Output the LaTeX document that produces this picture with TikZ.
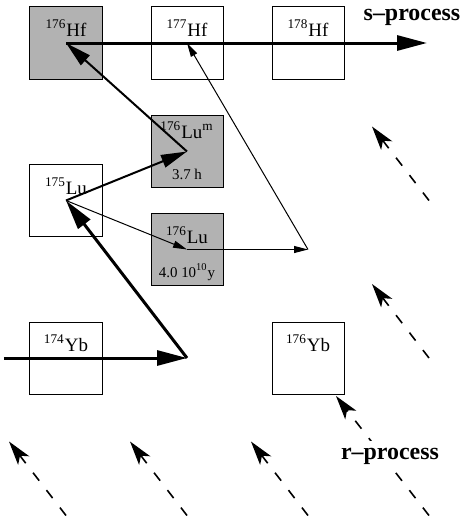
\documentclass[tikz,border=0pt]{standalone}
\usepackage{fontspec}
\setmainfont{Liberation Serif}
\usepackage{tikz}
\usetikzlibrary{arrows.meta,positioning}
\tikzstyle{nuc} = [rectangle, draw=black, line width=0.5bp, minimum size=36bp, inner sep=0pt]
\tikzstyle{stable} = [nuc, fill=white]
\tikzstyle{unstable} = [nuc, fill=black!30]
\tikzstyle{nucname} = [font=\fontsize{9.5}{11}\selectfont, anchor=base, inner sep=0pt, yshift=-15bp]
\tikzstyle{halflife} = [font=\fontsize{7.5}{9}\selectfont, anchor=base, inner sep=0pt, yshift=4.5bp]
\tikzstyle{process} = [font=\fontsize{12}{14}\selectfont\bfseries, inner sep=1bp]
\tikzstyle{heavy} = [line width=1.5bp, -{Triangle[length=15bp,width=7.5bp]}]
\tikzstyle{medium} = [line width=1bp, -{Triangle[length=13bp,width=6.5bp]}]
\tikzstyle{light} = [line width=0.5bp, -{Triangle[length=7bp,width=3.5bp]}]
\tikzstyle{rflow} = [line width=0.8bp, dash pattern=on 5bp off 6bp,
   -{Stealth[length=12bp,width=7bp,inset=3bp]}]

\begin{document}
\begin{tikzpicture}[on grid]

\useasboundingbox (-33bp,21.5bp) rectangle (198bp,-236.5bp);

% nuclides
\node (hf176) [unstable, label={[nucname]north:\textsuperscript{176}Hf}] {};
\node (hf177) [stable, right=60.5bp of hf176, label={[nucname]north:\textsuperscript{177}Hf}] {};
\node (hf178) [stable, right=60.5bp of hf177, label={[nucname]north:\textsuperscript{178}Hf}] {};
\node (lu175) [stable, below=78.75bp of hf176, label={[nucname]north:\textsuperscript{175}Lu}] {};
\node (lum) [unstable, above right=24.5bp and 60.5bp of lu175,
   label={[nucname, yshift=3.5bp]north:\textsuperscript{176}Lu\textsuperscript{m}},
   label={[halflife]south:3.7 h}] {};
\node (lu176) [unstable, below right=24.5bp and 60.5bp of lu175,
   label={[nucname]north:\textsuperscript{176}Lu},
   label={[halflife]south:4.0 10\textsuperscript{10}y}] {};
\node (yb174) [stable, below=78.75bp of lu175, label={[nucname]north:\textsuperscript{174}Yb}] {};
\node (yb176) [stable, right=121bp of yb174, label={[nucname]north:\textsuperscript{176}Yb}] {};

% bends and free ends
\coordinate [right=59.5bp of hf178] (sout);
\coordinate [right=60.5bp of lu176] (lubend);
\coordinate [left=31bp of yb174] (ybin);
\coordinate [right=60.5bp of yb174] (ybbend);

% r-process feeding
\coordinate [below=78.75bp of yb174] (r1);
\coordinate [below=78.75bp of ybbend] (r2);
\coordinate [below=78.75bp of yb176] (r3);
\coordinate [right=60.5bp of r3] (r4);
\coordinate [right=60.5bp of yb176] (r5);
\coordinate [right=181.5bp of lu175] (r6);
\coordinate [above left=37bp and 28.5bp of r1] (r1tip);
\coordinate [above left=37bp and 28.5bp of r2] (r2tip);
\coordinate [above left=37bp and 28.5bp of r3] (r3tip);
\coordinate [below right=19bp and 14bp of yb176] (r4tip);
\coordinate [above left=37bp and 28.5bp of r5] (r5tip);
\coordinate [above left=37bp and 28.5bp of r6] (r6tip);

\draw[heavy] (hf176.center) -- (sout);
\draw[medium] (lum.center) -- (hf176.center);
\draw[medium] (lu175.center) -- (lum.center);
\draw[light] (lu175.center) -- (lu176.center);
\draw[light] (lu176.center) -- (lubend);
\draw[light] (lubend) -- (hf177.center);
\draw[heavy] (ybin) -- (ybbend);
\draw[heavy] (ybbend) -- (lu175.center);

\draw[rflow] (r1) -- (r1tip);
\draw[rflow] (r2) -- (r2tip);
\draw[rflow] (r3) -- (r3tip);
\draw[rflow] (r4) -- (r4tip);
\draw[rflow] (r5) -- (r5tip);
\draw[rflow] (r6) -- (r6tip);

\node (slabel) [process, above right=13bp and 52bp of hf178] {s--process};
\node (rlabel) [process, fill=white, inner sep=3.5bp, below right=49bp and 41bp of yb176] {r--process};

\end{tikzpicture}
\end{document}
